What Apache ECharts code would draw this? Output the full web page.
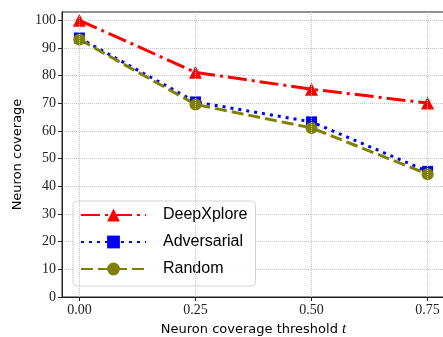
<!DOCTYPE html>
<html>
<head>
<meta charset="utf-8">
<script src="https://cdn.jsdelivr.net/npm/echarts@6/dist/echarts.min.js"></script>
<style>html,body{margin:0;padding:0;background:#fff}#c{width:443px;height:337px}</style>
</head>
<body>
<div id="c"></div>
<script>
const thresholds = [0, 0.25, 0.5, 0.75];
const xTicks = [0, 0.25, 0.5, 0.75];
const yTicks = [0, 10, 20, 30, 40, 50, 60, 70, 80, 90, 100];
const deepxplore = [100, 81.2, 75.1, 70.1];
const adversarial = [93.6, 70.5, 63.3, 45.4];
const random = [93.1, 69.6, 61.1, 44.4];

const chart = echarts.init(document.getElementById('c'), null, {renderer: 'canvas'});
const pairs = arr => thresholds.map((t, i) => [t, arr[i]]);
const serifFont = 'Liberation Serif';
const sansFont = 'DejaVu Sans';

chart.setOption({
  animation: false,
  grid: {left: 62, top: 12, right: -2, bottom: 40, show: true, borderColor: '#222', borderWidth: 1,
    backgroundColor: 'transparent', containLabel: false, outerBoundsMode: 'none'},
  xAxis: {
    type: 'value', min: -0.0375, max: 0.7875,
    name: '{a|Neuron coverage threshold }{b|t}',
    nameLocation: 'middle', nameGap: 24,
    nameTextStyle: {rich: {a: {fontFamily: sansFont, fontSize: 13, color: '#000'}, b: {fontFamily: serifFont, fontStyle: 'italic', fontSize: 15, color: '#000'}}},
    axisLine: {show: true, onZero: false, lineStyle: {color: '#222', width: 1}},
    axisTick: {show: true, customValues: xTicks, length: 4, lineStyle: {color: '#222'}},
    axisLabel: {customValues: xTicks, formatter: v => v.toFixed(2), fontFamily: serifFont, fontSize: 14, color: '#222', margin: 6},
    splitLine: {show: false}
  },
  yAxis: {
    type: 'value', min: 0, max: 103, interval: 10,
    name: 'Neuron coverage', nameLocation: 'middle', nameGap: 35,
    nameTextStyle: {fontFamily: sansFont, fontSize: 13, color: '#000'},
    axisLine: {show: true, onZero: false, lineStyle: {color: '#222', width: 1}},
    axisTick: {show: true, customValues: yTicks, length: 4, lineStyle: {color: '#222'}},
    axisLabel: {customValues: yTicks, fontFamily: serifFont, fontSize: 14, color: '#222', margin: 6},
    splitLine: {show: true, lineStyle: {type: 'dotted', color: '#c4c4c4', width: 1}}
  },
  legend: {
    orient: 'vertical', left: 73, top: 201,
    data: ['DeepXplore', 'Adversarial', 'Random'],
    itemWidth: 65, itemHeight: 16, itemGap: 11,
    padding: [6, 8, 9, 7],
    backgroundColor: 'rgba(255,255,255,0.85)', borderColor: '#d4d4d4', borderWidth: 1, borderRadius: 4,
    textStyle: {fontFamily: 'Liberation Sans', fontSize: 16, color: '#000', padding: [0, 0, 0, 12]}
  },
  series: [
    {
      name: 'grid-x', type: 'line', data: [], z: 0, silent: true,
      markLine: {silent: true, symbol: ['none', 'none'], label: {show: false}, animation: false,
        lineStyle: {type: 'dotted', color: '#c4c4c4', width: 1},
        data: xTicks.map(v => ({xAxis: v}))}
    },
    {
      name: 'DeepXplore', type: 'line', data: pairs(deepxplore),
      color: '#ff0000', symbol: 'triangle', symbolSize: 13,
      lineStyle: {width: 3, type: [19, 5, 3, 5]},
      itemStyle: {color: '#ff0000'}
    },
    {
      name: 'Adversarial', type: 'line', data: pairs(adversarial),
      color: '#0000ff', symbol: 'rect', symbolSize: 11,
      lineStyle: {width: 3, type: [3, 5]},
      itemStyle: {color: '#0000ff'}
    },
    {
      name: 'Random', type: 'line', data: pairs(random),
      color: '#808000', symbol: 'circle', symbolSize: 12,
      lineStyle: {width: 3, type: [12, 5]},
      itemStyle: {color: '#808000'}
    }
  ]
});
</script>
</body>
</html>
